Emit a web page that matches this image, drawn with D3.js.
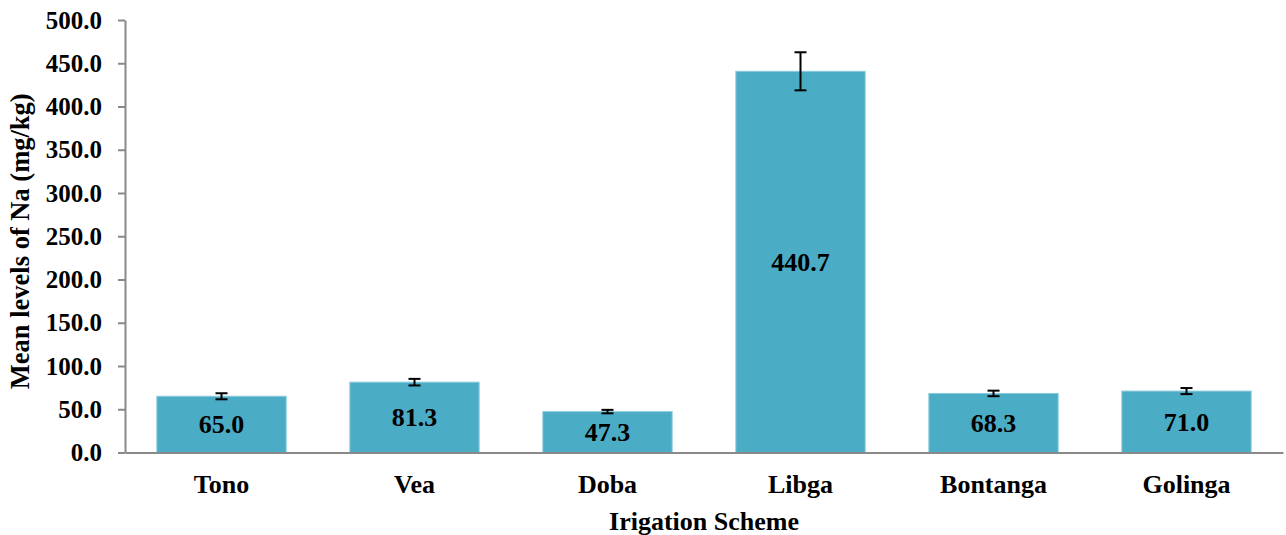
<!DOCTYPE html>
<html>
<head>
<meta charset="utf-8">
<script src="https://d3js.org/d3.v7.min.js"></script>
<style>
  body { margin: 0; background: #fff; }
  text { font-family: "Liberation Serif", "Times New Roman", serif; font-weight: bold; fill: #000; }
</style>
</head>
<body>
<svg id="chart" width="1286" height="535"></svg>
<script>
// chart data
const schemes = ["Tono", "Vea", "Doba", "Libga", "Bontanga", "Golinga"];
const meanNa = [65.0, 81.3, 47.3, 440.7, 68.3, 71.0];
const errNa = [3.5, 3.8, 2.0, 22.0, 3.2, 3.5];
const yTicks = [0, 50, 100, 150, 200, 250, 300, 350, 400, 450, 500];

const svg = d3.select("#chart");
const margin = { left: 125, right: 3, top: 20, bottom: 82 };
const width = 1286, height = 535;

const x = d3.scaleBand()
    .domain(schemes)
    .range([margin.left, width - margin.right])
    .paddingInner(0.33)
    .paddingOuter(0.165);

const y = d3.scaleLinear()
    .domain([0, 500])
    .range([height - margin.bottom - 0.5, margin.top]);

// bars
svg.append("g")
    .selectAll("rect")
    .data(schemes)
    .enter().append("rect")
    .attr("x", d => x(d))
    .attr("width", x.bandwidth())
    .attr("y", (d, i) => y(meanNa[i]))
    .attr("height", (d, i) => y(0) - y(meanNa[i]))
    .style("fill", "#4BACC6")
    .style("stroke", "#8ccbdc")
    .style("stroke-width", 1);

// error bars
const eb = svg.append("g").style("stroke", "#000").style("stroke-width", 2);
schemes.forEach((d, i) => {
    const cx = x(d) + x.bandwidth() / 2;
    const hi = y(meanNa[i] + errNa[i]), lo = y(meanNa[i] - errNa[i]);
    eb.append("line").attr("x1", cx).attr("x2", cx).attr("y1", hi).attr("y2", lo);
    eb.append("line").attr("x1", cx - 6).attr("x2", cx + 6).attr("y1", hi).attr("y2", hi);
    eb.append("line").attr("x1", cx - 6).attr("x2", cx + 6).attr("y1", lo).attr("y2", lo);
});

// value labels
svg.append("g")
    .selectAll("text")
    .data(schemes)
    .enter().append("text")
    .attr("x", d => x(d) + x.bandwidth() / 2)
    .attr("y", (d, i) => (y(meanNa[i]) + y(0)) / 2)
    .attr("dy", "0.35em")
    .attr("text-anchor", "middle")
    .style("font-size", "26px")
    .text((d, i) => meanNa[i].toFixed(1));

// y axis
const yAxis = svg.append("g")
    .attr("transform", `translate(${margin.left},0)`)
    .call(d3.axisLeft(y).tickValues(yTicks).tickSize(7).tickSizeOuter(0).tickFormat(d3.format(".1f")));
yAxis.select(".domain").style("stroke", "#898989").style("stroke-width", 2);
yAxis.selectAll(".tick line").style("stroke", "#898989").style("stroke-width", 2);
yAxis.selectAll(".tick text").attr("x", -23).style("font-size", "25px").style("font-family", null);

// x axis
const xAxis = svg.append("g")
    .attr("transform", `translate(0,${y(0)})`)
    .call(d3.axisBottom(x).tickSize(0).tickSizeOuter(0));
xAxis.select(".domain").style("stroke", "#898989").style("stroke-width", 2);
xAxis.selectAll(".tick text").attr("y", 40).attr("dy", 0).style("font-size", "26px").style("font-family", null);

// axis titles
svg.append("text")
    .attr("transform", `translate(29,${(y(0) + y(500)) / 2 + 5}) rotate(-90)`)
    .attr("text-anchor", "middle")
    .style("font-size", "26.5px")
    .text("Mean levels of Na (mg/kg)");

svg.append("text")
    .attr("x", (margin.left + width - margin.right) / 2)
    .attr("y", 530)
    .attr("text-anchor", "middle")
    .style("font-size", "26px")
    .text("Irigation Scheme");
</script>
</body>
</html>
